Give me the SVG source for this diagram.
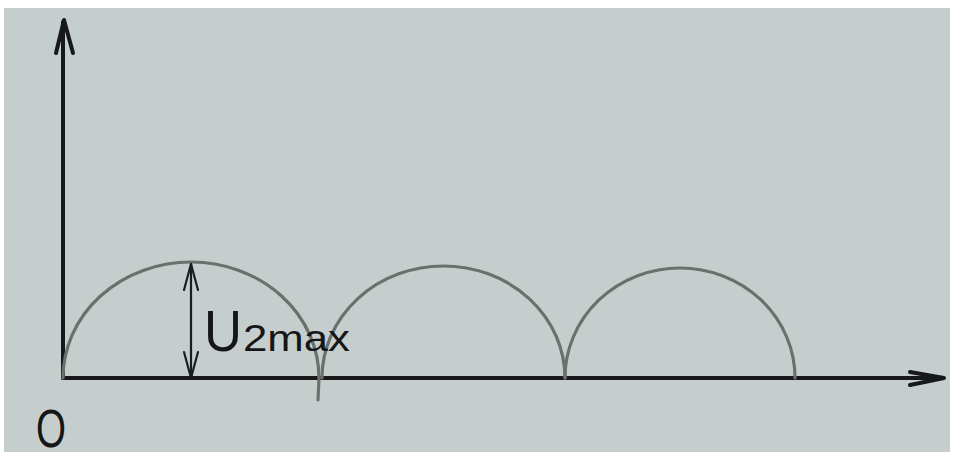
<svg xmlns="http://www.w3.org/2000/svg" width="955" height="459" viewBox="0 0 955 459">
<style>
.axis{stroke:#161819;stroke-width:4;fill:none;stroke-linecap:round;stroke-linejoin:round}
.curve{stroke:#6b706f;stroke-width:3.2;fill:none;stroke-linecap:round}
.dim{stroke:#1b1d1e;stroke-width:2.2;fill:none;stroke-linecap:round;stroke-linejoin:round}
.lbl{font-family:"Liberation Sans",Arial,sans-serif;fill:#141617}
</style>
<rect x="0" y="0" width="955" height="459" fill="#ffffff"/>
<rect x="4" y="8" width="946" height="444" fill="#c6cecd"/>
<g id="axes">
<path class="axis" d="M63 378 L63 22"/>
<path class="axis" d="M56 53 L64 20 L73 53"/>
<path class="axis" d="M63 378 L940 378"/>
<path class="axis" d="M910 372 L944 378 L910 385"/>
</g>
<g id="curves">
<path class="curve" d="M63 378 A128 116 0 0 1 319 378 L318 400"/>
<path class="curve" d="M322 378 A121.5 112 0 0 1 565 378"/>
<path class="curve" d="M565 378 A115 110 0 0 1 795 378"/>
</g>
<g id="dimension">
<path class="dim" d="M191 264 L191 378"/>
<path class="dim" d="M184 290 L191 264 L198 290"/>
<path class="dim" d="M184 352 L191 378 L198 352"/>
</g>
<g id="labels">
<text class="lbl" x="204" y="351" font-size="58" textLength="38" lengthAdjust="spacingAndGlyphs">U</text>
<text class="lbl" x="243" y="351" font-size="37" textLength="107" lengthAdjust="spacingAndGlyphs">2max</text>
<text class="lbl" x="36" y="447" font-size="54" textLength="30" lengthAdjust="spacingAndGlyphs">O</text>
</g>
</svg>
